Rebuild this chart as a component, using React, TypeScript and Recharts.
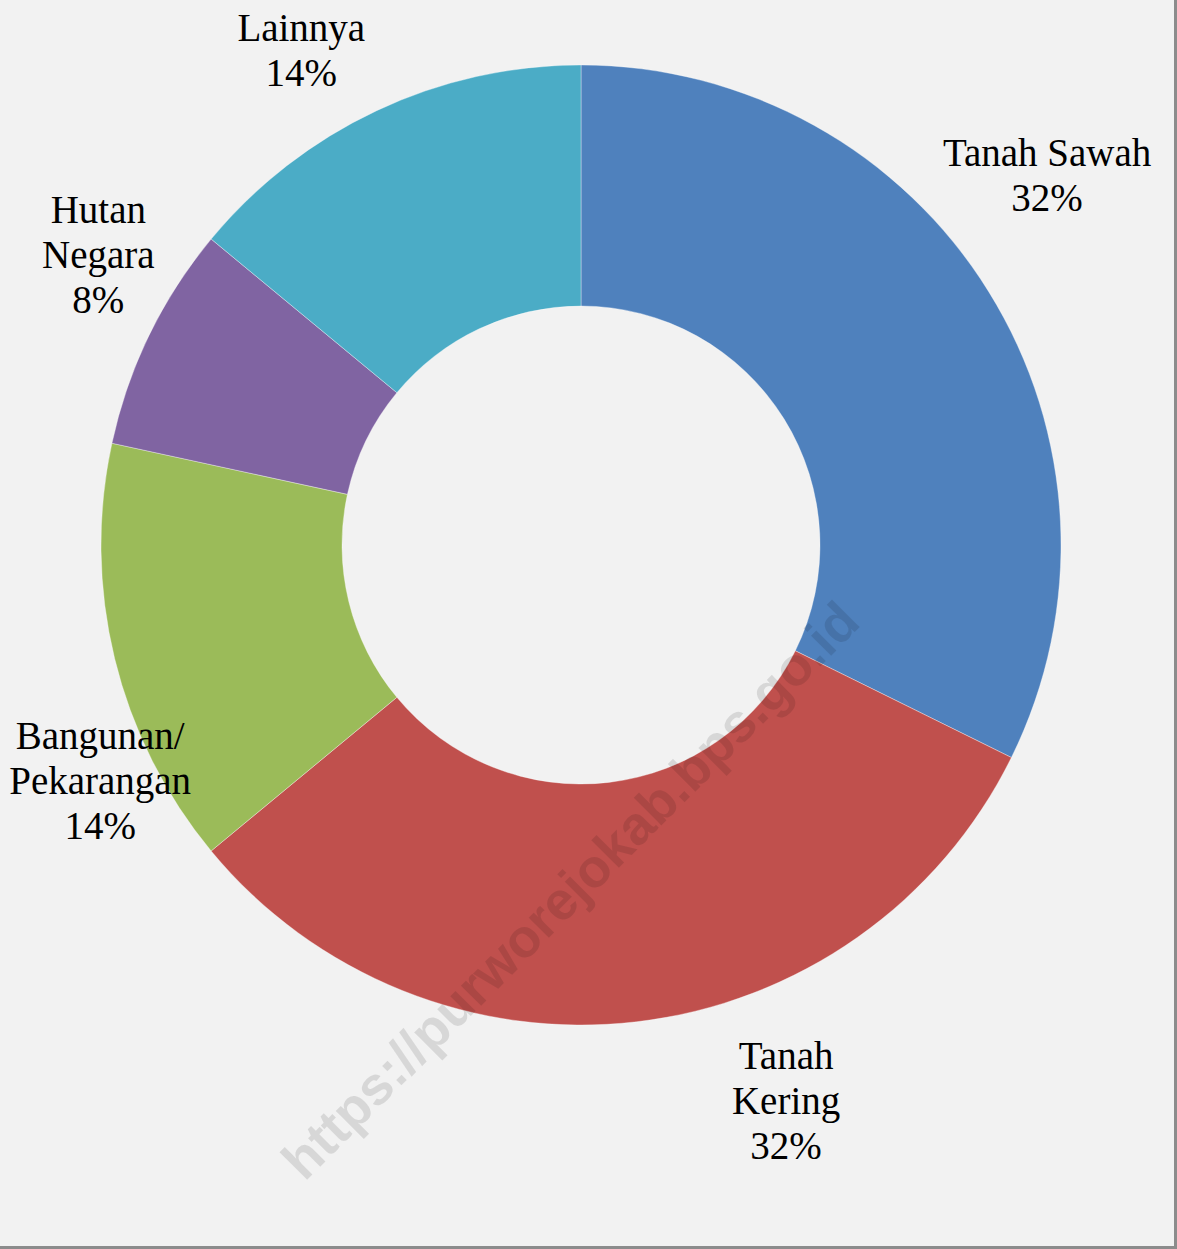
import { Cell, Pie, PieChart } from "recharts"

// Luas lahan menurut penggunaan (persen)
const categories = ["Tanah Sawah", "Tanah Kering", "Bangunan/ Pekarangan", "Hutan Negara", "Lainnya"]
const shares = [32.3, 31.7, 14.4, 7.6, 14.0]
const labelLines = [
  ["Tanah Sawah"],
  ["Tanah", "Kering"],
  ["Bangunan/", "Pekarangan"],
  ["Hutan", "Negara"],
  ["Lainnya"],
]
const colors = ["#4F81BD", "#C0504D", "#9BBB59", "#8064A2", "#4BACC6"]

const data = categories.map((name, i) => ({ name, value: shares[i], lines: labelLines[i] }))
const total = shares.reduce((a, b) => a + b, 0)

// small shifts so labels sit where the original best-fit put them
const labelNudge: Record<string, [number, number]> = {
  "Tanah Sawah": [-18, -69],
  "Tanah Kering": [139, -11],
  "Bangunan/ Pekarangan": [73, 101],
  "Hutan Negara": [30, -41],
  Lainnya: [-37, 21],
}

const RAD = Math.PI / 180
const FONT = "'Liberation Serif', 'Times New Roman', serif"

function renderLabel(props: any) {
  const { cx, cy, midAngle, outerRadius, payload, value } = props
  const r = outerRadius + 90
  const [dx, dy] = labelNudge[payload.name] || [0, 0]
  const x = cx + r * Math.cos(-midAngle * RAD) + dx
  const y = cy + r * Math.sin(-midAngle * RAD) + dy
  const lines = [...payload.lines, `${Math.round((value / total) * 100)}%`]
  const lh = 45
  return (
    <text
      x={x}
      y={y}
      textAnchor="middle"
      fill="#000"
      fontFamily={FONT}
      fontSize={39}
    >
      {lines.map((t: string, i: number) => (
        <tspan key={i} x={x} y={y + (i - (lines.length - 1) / 2) * lh} dominantBaseline="central">
          {t}
        </tspan>
      ))}
    </text>
  )
}

export default function App() {
  return (
    <div
      style={{
        position: "absolute",
        left: 0,
        top: 0,
        width: 1177,
        height: 1249,
        background: "#F2F2F2",
        boxSizing: "border-box",
        borderRight: "3px solid #8C8C8C",
        borderBottom: "3px solid #8C8C8C",
        overflow: "hidden",
      }}
    >
      <PieChart
        width={1174}
        height={1246}
        margin={{ top: 0, right: 0, bottom: 0, left: 0 }}
        style={{ position: "absolute", left: 0, top: 0 }}
      >
        <Pie
          data={data}
          dataKey="value"
          nameKey="name"
          cx={581}
          cy={545}
          innerRadius={239}
          outerRadius={480}
          startAngle={90}
          endAngle={-270}
          stroke="rgba(255,255,255,0.35)"
          strokeWidth={1}
          label={renderLabel}
          labelLine={false}
          isAnimationActive={false}
        >
          {data.map((d, i) => (
            <Cell key={d.name} fill={colors[i]} />
          ))}
        </Pie>
      </PieChart>
      <svg
        width={1177}
        height={1249}
        style={{ position: "absolute", left: 0, top: 0, pointerEvents: "none" }}
      >
        <text
          x={570}
          y={890}
          textAnchor="middle"
          dominantBaseline="central"
          transform="rotate(-45 570 890)"
          fontFamily="'Liberation Sans', Arial, sans-serif"
          fontWeight="bold"
          fontSize={54}
          fill="rgba(0,0,0,0.11)"
        >
          https://purworejokab.bps.go.id
        </text>
      </svg>
    </div>
  )
}
